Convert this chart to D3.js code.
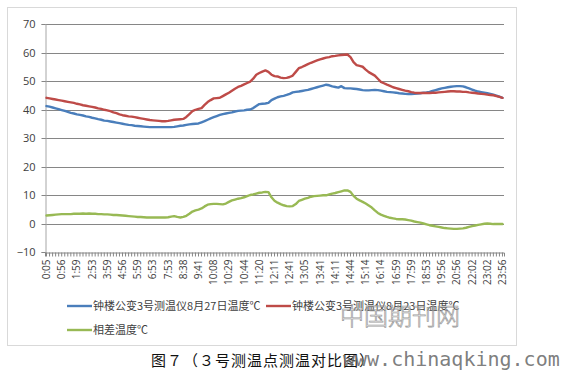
<!DOCTYPE html>
<html>
<head>
<meta charset="utf-8">
<script src="https://cdn.jsdelivr.net/npm/d3@7/dist/d3.min.js"></script>
<style>
  html, body { margin: 0; padding: 0; background: #fff; }
  svg { display: block; }
</style>
</head>
<body>
<svg id="chart" width="566" height="373"></svg>
<script>
// ---- DATA ----
const timeLabels = ["0:05","0:56","1:59","2:53","3:59","4:56","5:59","6:53","7:53","8:38",
  "9:41","10:08","10:29","10:44","11:20","12:11","12:41","13:05","13:41","14:11",
  "14:44","15:14","16:14","16:59","17:59","18:53","19:56","20:56","22:02","23:02","23:56"];
const labelEvery = 5;

const yTicks = [-10, 0, 10, 20, 30, 40, 50, 60, 70];

const seriesNames = ["钟楼公变3号测温仪8月27日温度℃", "钟楼公变3号测温仪8月23日温度℃", "相差温度℃"];

const temp827 = [
  41.2,41.0,40.7,40.4,40.1,39.8,39.5,39.2,38.8,38.6,
  38.3,38.1,37.9,37.6,37.4,37.1,36.9,36.6,36.4,36.1,
  36.0,35.8,35.6,35.4,35.2,35.0,34.8,34.6,34.5,34.3,
  34.2,34.1,34.0,33.9,33.8,33.8,33.8,33.8,33.8,33.8,
  33.8,33.8,33.9,34.1,34.3,34.4,34.6,34.8,34.9,35.0,
  35.1,35.5,35.9,36.4,36.9,37.3,37.7,38.1,38.4,38.6,
  38.8,39.0,39.3,39.5,39.6,39.7,39.9,40.0,40.5,41.2,
  41.9,42.0,42.1,42.3,43.3,43.8,44.3,44.6,44.8,45.1,
  45.5,46.0,46.2,46.3,46.5,46.7,46.9,47.2,47.5,47.8,
  48.1,48.4,48.7,48.5,48.1,47.9,47.7,48.2,47.5,47.4,
  47.4,47.3,47.2,47.0,46.8,46.7,46.7,46.8,46.9,46.8,
  46.6,46.4,46.2,46.1,46.0,45.9,45.7,45.6,45.5,45.4,
  45.4,45.5,45.6,45.7,45.9,46.0,46.2,46.5,46.8,47.1,
  47.4,47.6,47.8,48.0,48.1,48.2,48.2,48.1,47.8,47.4,
  47.0,46.6,46.3,46.1,45.9,45.7,45.5,45.2,44.9,44.5,
  44.1
];

const temp823 = [
  44.1,43.9,43.7,43.5,43.3,43.1,42.9,42.7,42.5,42.3,
  42.0,41.8,41.5,41.3,41.1,40.9,40.7,40.4,40.2,39.9,
  39.7,39.4,39.0,38.7,38.3,38.0,37.8,37.6,37.5,37.3,
  37.1,36.9,36.7,36.5,36.3,36.2,36.1,36.0,35.9,35.9,
  36.0,36.2,36.4,36.5,36.6,36.7,37.4,38.4,39.4,39.9,
  40.2,40.5,41.6,42.6,43.3,43.9,44.0,44.1,44.7,45.3,
  45.9,46.6,47.3,47.9,48.3,48.8,49.3,49.8,50.8,52.2,
  52.8,53.3,53.7,53.2,52.2,51.7,51.6,51.2,51.0,51.1,
  51.4,51.9,53.2,54.5,54.9,55.4,55.9,56.4,56.8,57.2,
  57.6,57.9,58.2,58.4,58.7,58.8,59.0,59.1,59.2,59.3,
  58.4,56.6,55.6,55.3,55.0,54.0,53.1,52.5,51.9,50.8,
  49.7,49.2,48.7,48.3,47.8,47.5,47.2,46.9,46.6,46.4,
  46.1,45.9,45.8,45.8,45.8,45.8,45.8,45.9,45.9,46.0,
  46.1,46.2,46.3,46.4,46.4,46.3,46.3,46.2,46.2,46.0,
  45.9,45.8,45.6,45.5,45.4,45.2,45.1,45.0,44.7,44.4,
  44.1
];

const tempDiff = [
  2.8,2.9,3.0,3.1,3.2,3.3,3.3,3.3,3.3,3.4,
  3.4,3.4,3.5,3.4,3.5,3.4,3.4,3.3,3.3,3.2,
  3.2,3.1,3.0,3.0,2.9,2.8,2.7,2.6,2.5,2.4,
  2.3,2.3,2.2,2.1,2.1,2.1,2.1,2.1,2.1,2.1,
  2.2,2.4,2.6,2.3,2.1,2.3,2.7,3.4,4.2,4.6,
  4.9,5.3,6.0,6.6,6.8,6.9,6.9,6.8,6.7,7.0,
  7.6,8.1,8.4,8.7,8.9,9.2,9.6,10.0,10.2,10.5,
  10.8,10.9,11.1,11.0,9.2,8.0,7.3,6.8,6.4,6.1,
  6.0,6.1,6.8,7.9,8.3,8.7,9.0,9.4,9.6,9.7,
  9.8,9.9,9.9,10.2,10.5,10.7,11.0,11.3,11.6,11.6,
  11.1,9.7,8.7,8.1,7.6,7.0,6.3,5.6,4.6,3.7,
  3.1,2.7,2.3,2.0,1.8,1.6,1.5,1.5,1.4,1.2,
  1.0,0.7,0.5,0.3,0.0,-0.3,-0.6,-0.8,-1.0,-1.2,
  -1.4,-1.6,-1.7,-1.8,-1.9,-1.9,-1.8,-1.7,-1.5,-1.2,
  -0.9,-0.7,-0.5,-0.3,-0.1,0.0,-0.1,-0.2,-0.2,-0.2,
  -0.2
];

const seriesColors = ["#4a7ebb", "#be4b48", "#98b954"];

// ---- CHART ----
const svg = d3.select("#chart");
const plot = { left: 45, right: 504, top: 24, bottom: 252 };

// frame
svg.append("rect")
  .attr("x", 7.5).attr("y", 7.5).attr("width", 509).attr("height", 338)
  .attr("fill", "#fff").attr("stroke", "#d9d9d9").attr("stroke-width", 1);

const x = d3.scaleBand()
  .domain(d3.range(temp827.length))
  .range([plot.left, plot.right])
  .paddingInner(0).paddingOuter(0);

const y = d3.scaleLinear()
  .domain([d3.min(yTicks), d3.max(yTicks)])
  .range([plot.bottom, plot.top]);

// gridlines
svg.append("g")
  .selectAll("line")
  .data(yTicks.filter(t => t !== d3.min(yTicks)))
  .join("line")
  .attr("x1", plot.left).attr("x2", plot.right)
  .attr("y1", d => Math.round(y(d)) + 0.5).attr("y2", d => Math.round(y(d)) + 0.5)
  .attr("stroke", "#868686").attr("stroke-width", 1);

// y axis
const yAxis = d3.axisLeft(y).tickValues(yTicks).tickSize(4).tickPadding(6).tickFormat(d3.format("d"));
const gy = svg.append("g").attr("transform", `translate(${plot.left + 0.5},0)`).call(yAxis);
gy.select(".domain").attr("stroke", "#a6a6a6");
gy.selectAll(".tick line").attr("stroke", "#868686");
gy.selectAll(".tick text")
  .attr("font-family", "'Open Sans', 'Liberation Sans', sans-serif")
  .attr("font-size", 11).attr("fill", "#404040");
gy.selectAll(".tick").attr("transform", d => `translate(0,${Math.round(y(d)) + 0.5})`);

// x axis
const xAxis = d3.axisBottom(x)
  .tickSize(4).tickPadding(3)
  .tickFormat(i => (i % labelEvery === 0 ? timeLabels[i / labelEvery] : ""));
const gx = svg.append("g").attr("transform", `translate(0,${Math.round(plot.bottom) + 0.5})`).call(xAxis);
gx.select(".domain").attr("stroke", "#868686");
gx.selectAll(".tick line").attr("stroke", "#868686");
gx.selectAll(".tick text")
  .attr("font-family", "'Open Sans', 'Liberation Sans', sans-serif")
  .attr("font-size", 10).attr("fill", "#404040")
  .attr("text-anchor", "end")
  .attr("dy", "0.35em")
  .attr("transform", "translate(0,3) rotate(-90)")
  .attr("x", -4).attr("y", 0);

// lines
const line = d3.line()
  .x((d, i) => x(i) + x.bandwidth() / 2)
  .y(d => y(d));

const allSeries = [temp827, temp823, tempDiff];
svg.append("g")
  .selectAll("path")
  .data(allSeries)
  .join("path")
  .attr("d", d => line(d))
  .attr("fill", "none")
  .attr("stroke", (d, i) => seriesColors[i])
  .attr("stroke-width", 2.4)
  .attr("stroke-linejoin", "round")
  .attr("stroke-linecap", "round");

// legend
const legendFont = "'Noto Sans CJK SC', sans-serif";
const legendItems = [
  { x: 67, y: 306 },
  { x: 266, y: 306 },
  { x: 67, y: 330 }
];
const lg = svg.append("g");
legendItems.forEach((p, i) => {
  lg.append("line")
    .attr("x1", p.x).attr("x2", p.x + 25)
    .attr("y1", p.y).attr("y2", p.y)
    .attr("stroke", seriesColors[i]).attr("stroke-width", 2.4);
  lg.append("text")
    .attr("x", p.x + 26).attr("y", p.y)
    .attr("dy", "0.35em")
    .attr("font-family", legendFont).attr("font-size", 11)
    .attr("fill", "#404040")
    .text(seriesNames[i]);
});

// watermark (outline characters)
svg.append("text")
  .attr("x", 340).attr("y", 325)
  .attr("font-family", "'Noto Sans CJK SC', sans-serif")
  .attr("font-size", 24).attr("font-weight", 300)
  .attr("fill", "none").attr("stroke", "#9a9a9a").attr("stroke-width", 0.7)
  .attr("letter-spacing", 0)
  .text("中国期刊网");

// caption
svg.append("text")
  .attr("x", 151).attr("y", 366)
  .attr("font-family", "'Noto Sans CJK SC', sans-serif")
  .attr("font-size", 15).attr("fill", "#111")
  .attr("letter-spacing", 1)
  .text("图７（３号测温点测温对比图）");

svg.append("text")
  .attr("x", 343).attr("y", 366)
  .attr("font-family", "'DejaVu Sans Mono', monospace")
  .attr("font-size", 20).attr("fill", "#6e6e6e")
  .attr("fill-opacity", 0.9)
  .text("www.chinaqking.com");
</script>
</body>
</html>
